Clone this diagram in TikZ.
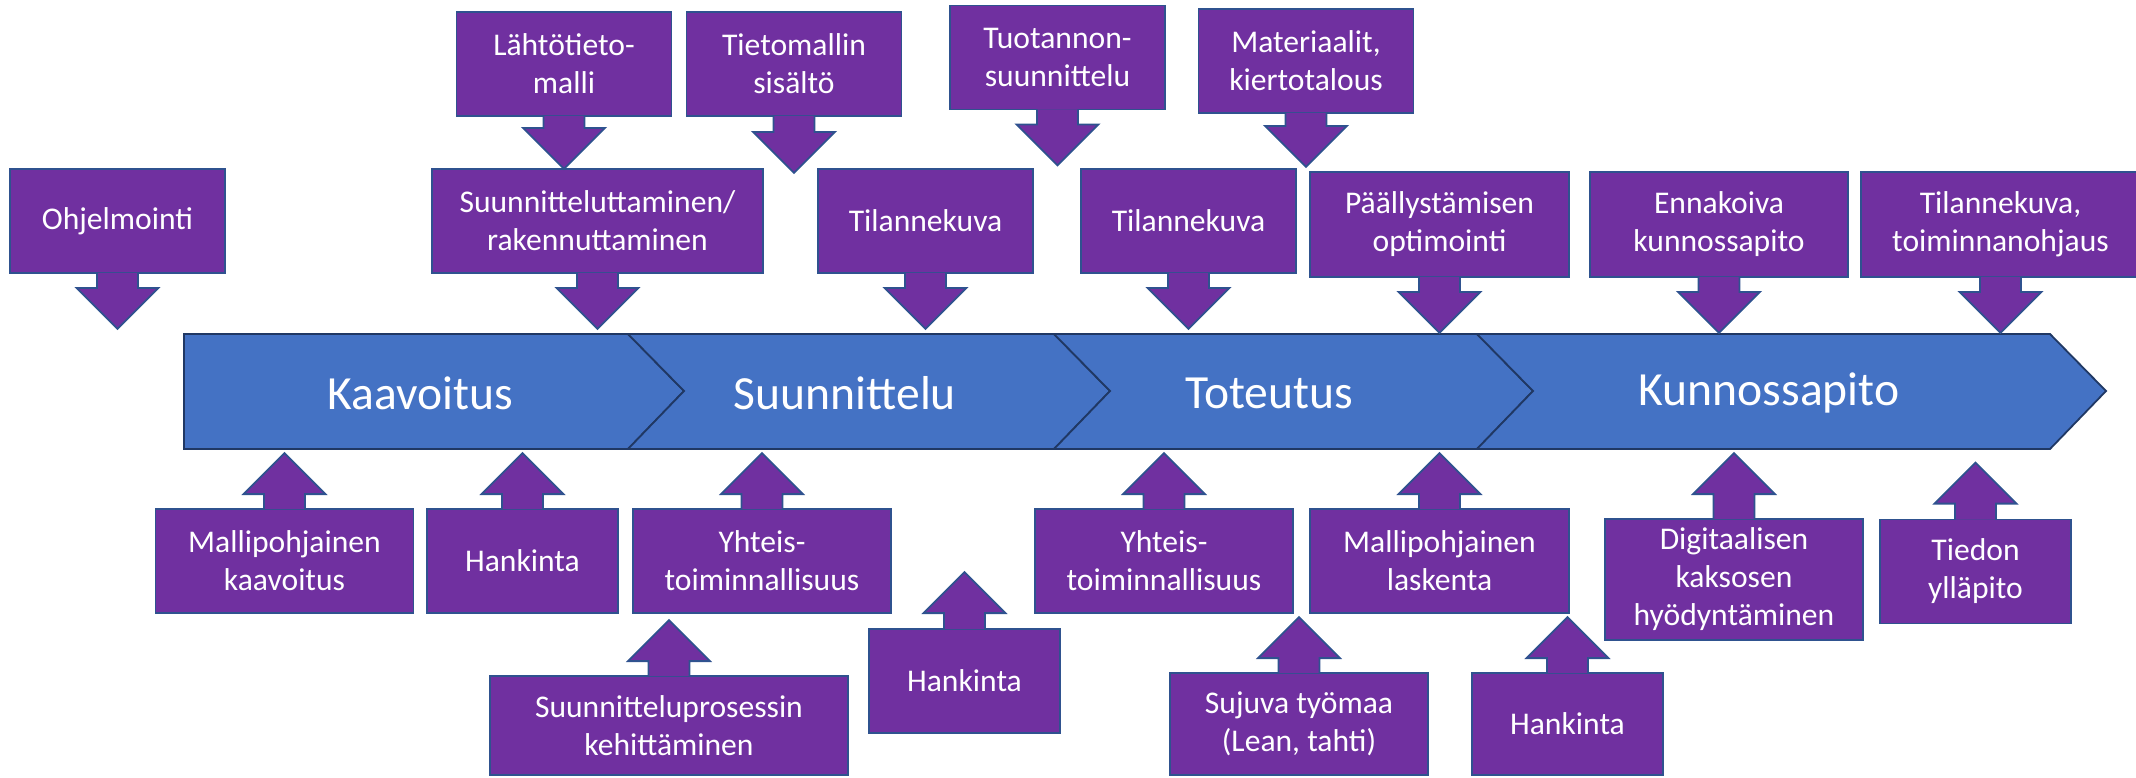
\documentclass[tikz,border=0pt]{standalone}
\usepackage{fontspec}
\setmainfont{Carlito}
\usetikzlibrary{calc}
\definecolor{stageblue}{HTML}{4472C4}
\definecolor{stageline}{HTML}{203864}
\definecolor{boxpurple}{HTML}{7030A0}
\definecolor{boxline}{HTML}{2F528F}
\tikzset{%
  pbox/.style={draw=boxline,fill=boxpurple,line width=0.9pt,text=white,
    align=center,inner sep=0pt,minimum width=#1,minimum height=52pt,
    font=\fontsize{15.8}{19}\selectfont},
  pbox/.default=107.5pt,
  barrow/.style={draw=boxline,fill=boxpurple,line width=0.9pt},
  chev/.style={draw=stageline,fill=stageblue,line width=0.9pt},
  stage/.style={text=white,font=\fontsize{23.8}{28}\selectfont}}
\newcommand{\downarr}[2]{%
  \filldraw[barrow] ($(#1.south)+(-20.5,-1)$) -- ($(#1.south)+(-20.5,{#2-41})$)
    -- ($(#1.south)+(-41,{#2-41})$) -- ($(#1.south)+(0,#2)$)
    -- ($(#1.south)+(41,{#2-41})$) -- ($(#1.south)+(20.5,{#2-41})$)
    -- ($(#1.south)+(20.5,-1)$);}
\newcommand{\uparr}[2]{%
  \filldraw[barrow] ($(#1.north)+(-20.5,1)$) -- ($(#1.north)+(-20.5,{41-#2})$)
    -- ($(#1.north)+(-41,{41-#2})$) -- ($(#1.north)+(0,{-#2})$)
    -- ($(#1.north)+(41,{41-#2})$) -- ($(#1.north)+(20.5,{41-#2})$)
    -- ($(#1.north)+(20.5,1)$);}

\begin{document}
\begin{tikzpicture}[x=0.5pt,y=-0.5pt]
  \useasboundingbox (0,0) rectangle (2136,777);
  % process chevron
  \draw[chev] (184,334) -- (628,334) -- (684,391) -- (628,449) -- (184,449) -- cycle;
  \foreach \xl/\xr in {628/1054,1054/1477,1477/2050}
    \draw[chev] (\xl,334) -- (\xr,334) -- ({\xr+56},391) -- (\xr,449)
      -- (\xl,449) -- ({\xl+56},391) -- cycle;
  \node[stage] (kaavoitus) at (420,393) {Kaavoitus};
  \node[stage] (suunnittelu) at (845,393) {Suunnittelu};
  \node[stage] (toteutus) at (1269,393) {Toteutus};
  \node[stage] (kunnossapito) at (1769,393) {Kunnossapito};

  % above the chevron
  \node[pbox] (ohjelm) at (117.5,221) {Ohjelmointi};
  \node[pbox] (lahto) at (564,64) {Lähtötieto-\\malli};
  \node[pbox=165.5pt] (suunnitt) at (597.5,221) {Suunnitteluttaminen/\\rakennuttaminen};
  \node[pbox] (tietom) at (794,64) {Tietomallin\\sisältö};
  \node[pbox] (tilanne1) at (925.5,221) {Tilannekuva};
  \node[pbox] (tuot) at (1057.5,57.5) {Tuotannon-\\suunnittelu};
  \node[pbox] (mater) at (1306,61) {Materiaalit,\\kiertotalous};
  \node[pbox] (tilanne2) at (1188.5,221) {Tilannekuva};
  \node[pbox=129.5pt,minimum height=52.5pt] (paall) at (1439.5,224.5) {Päällystämisen\\optimointi};
  \node[pbox=129pt,minimum height=52.5pt] (ennak) at (1719,224.5) {Ennakoiva\\kunnossapito};
  \node[pbox=139.5pt,minimum height=52.5pt] (tilanne3) at (2000.5,224.5) {Tilannekuva,\\toiminnanohjaus};

  \downarr{ohjelm}{55}
  \downarr{lahto}{52}
  \downarr{suunnitt}{55}
  \downarr{tietom}{56}
  \downarr{tilanne1}{55}
  \downarr{tuot}{55}
  \downarr{mater}{53}
  \downarr{tilanne2}{55}
  \downarr{paall}{55}
  \downarr{ennak}{55}
  \downarr{tilanne3}{55}

  % below the chevron
  \node[pbox=129pt] (mallik) at (284.5,561) {Mallipohjainen\\kaavoitus};
  \node[pbox=95.5pt] (hank1) at (522.5,561) {Hankinta};
  \node[pbox=129pt] (yht1) at (762,561) {Yhteis-\\toiminnallisuus};
  \node[pbox=179pt,minimum height=49.5pt] (suunpros) at (669,725.5) {Suunnitteluprosessin\\kehittäminen};
  \node[pbox=95.5pt] (hank2) at (964.5,681) {Hankinta};
  \node[pbox=129pt] (yht2) at (1164,561) {Yhteis-\\toiminnallisuus};
  \node[pbox=129.5pt] (mallil) at (1439.5,561) {Mallipohjainen\\laskenta};
  \node[pbox=129pt,minimum height=60.5pt] (digi) at (1734,579.5) {Digitaalisen\\kaksosen\\hyödyntäminen};
  \node[pbox=95.5pt] (tiedon) at (1975.5,571.5) {Tiedon\\ylläpito};
  \node[pbox=129pt,minimum height=51pt] (sujuva) at (1299,724) {Sujuva työmaa\\(Lean, tahti)};
  \node[pbox=95.5pt,minimum height=51pt] (hank3) at (1567.5,724) {Hankinta};

  \uparr{mallik}{55}
  \uparr{hank1}{55}
  \uparr{yht1}{55}
  \uparr{suunpros}{55}
  \uparr{hank2}{56}
  \uparr{yht2}{55}
  \uparr{mallil}{55}
  \uparr{digi}{65}
  \uparr{tiedon}{56}
  \uparr{sujuva}{55}
  \uparr{hank3}{55}
\end{tikzpicture}
\end{document}
